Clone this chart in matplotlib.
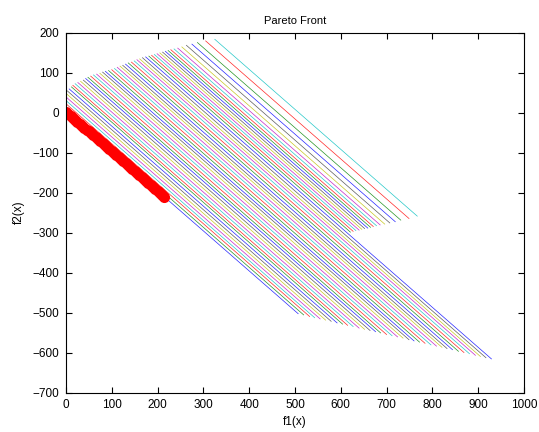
import matplotlib
matplotlib.use("Agg")
import matplotlib.pyplot as plt

plt.rcParams['font.family'] = ['Liberation Sans', 'DejaVu Sans']

# line segments: start (f1, f2) on the upper edge, end (f1, f2) at the lower edge
start_f1 = [0, 0, 0, 0, 0, 0, 3, 7, 12, 15,
            20, 26, 32, 38, 43, 48, 54, 60, 67, 74,
            80, 86, 93, 100, 106, 112, 118, 124, 130, 136,
            143, 149, 155, 161, 167, 174,
            181, 187, 193, 199, 205, 211, 217, 223, 229, 236,
            244, 253, 263, 275, 287, 305, 325]
start_f2 = [4, 13, 22, 30, 39, 48, 54, 59, 64, 68,
            72, 75, 78, 81, 85, 88, 91, 94, 96, 98,
            101, 103, 105, 107, 110, 113, 116, 118, 121, 124,
            126, 129, 132, 134, 137, 139,
            141, 143, 145, 147, 149, 151, 153, 155, 157, 159,
            161, 164, 168, 171, 175, 179, 183]
end_f1 = [507, 519, 532, 543, 555, 567, 579, 592, 604, 615,
          627, 640, 652, 664, 676, 687, 700, 712, 724, 736,
          749, 760, 772, 784, 797, 809, 821, 832, 844, 857,
          869, 881, 894, 905, 917, 929,
          621, 627, 633, 640, 646, 652, 659, 665, 671, 678,
          686, 696, 707, 719, 731, 749, 767]
end_f2 = [-503, -506, -510, -513, -516, -519, -522, -526, -529, -532,
          -535, -539, -542, -545, -548, -551, -555, -558, -561, -564,
          -568, -571, -574, -577, -581, -584, -587, -590, -593, -597,
          -600, -603, -607, -610, -613, -616,
          -299, -297, -295, -294, -292, -290, -289, -287, -285, -283,
          -281, -279, -276, -273, -269, -265, -259]

# Pareto front points
front_f1 = [0, 5, 10, 15, 20, 25, 30, 35, 40, 45, 50, 55, 60, 65, 70, 75,
            80, 85, 90, 95, 100, 105, 110, 115, 120, 125, 130, 135, 140,
            145, 150, 155, 160, 165, 170, 175, 180, 185, 190, 195, 200,
            205, 210, 215]
front_f2 = [2, -3, -8, -13, -18, -23, -28, -33, -38, -43, -47, -52, -57,
            -62, -67, -72, -77, -82, -86, -91, -96, -101, -106, -111, -116,
            -121, -126, -131, -136, -141, -146, -151, -156, -161, -166,
            -171, -176, -181, -186, -191, -196, -201, -206, -212]

colors = [(0, 0, 1), (0, 0.5, 0), (1, 0, 0), (0, 0.75, 0.75),
          (0.75, 0, 0.75), (0.75, 0.75, 0), (0.25, 0.25, 0.25)]

fig = plt.figure(figsize=(5.39, 4.32), dpi=100)
ax = fig.add_axes([0.1224, 0.0914, 0.8497, 0.8333])

for i in range(len(start_f1)):
    ax.plot([start_f1[i], end_f1[i]], [start_f2[i], end_f2[i]],
            color=colors[i % len(colors)], lw=0.5, alpha=0.85)

ax.plot(front_f1, front_f2, 'o', color='red', markersize=8, markeredgewidth=0)

ax.set_xlim(0, 1000)
ax.set_ylim(-700, 200)
ax.set_xticks(range(0, 1001, 100))
ax.set_yticks(range(-700, 201, 100))
ax.tick_params(direction='in', top=True, right=True, length=4,
               labelsize=8.5, pad=5)
for s in ax.spines.values():
    s.set_linewidth(0.8)

ax.set_title('Pareto Front', fontsize=8, pad=6)
ax.set_xlabel('f1(x)', fontsize=8.5, labelpad=3)
ax.set_ylabel('f2(x)', fontsize=8.5, labelpad=5)

fig.savefig('out.png', dpi=100)
